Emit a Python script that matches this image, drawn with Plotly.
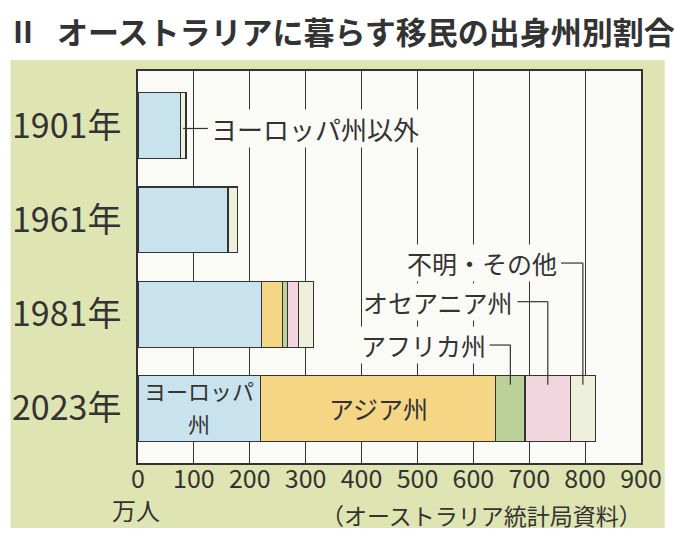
import plotly.graph_objects as go

# ---------------- data (万人) ----------------
years = ["1901年", "1961年", "1981年", "2023年"]
europe = [75.5, 161, 221, 219]          # ヨーロッパ州
non_europe = [10.5, 17.5, None, None]   # ヨーロッパ州以外 (1901, 1961)
asia = [None, None, 37.5, 421]          # アジア州
africa = [None, None, 9, 52.5]          # アフリカ州
oceania = [None, None, 19, 81.5]        # オセアニア州
other = [None, None, 28, 44]            # 不明・その他
x_ticks = [0, 100, 200, 300, 400, 500, 600, 700, 800, 900]

# ---------------- styling / layout ----------------
W, H = 674, 537
L, R, T, B = 134, 643, 71, 463
FONT = "Noto Sans CJK JP"
INK = "#333333"
PANEL = "#dfe5b2"
PLOTBG = "#fafaf6"

def px(x):
    return (x - L) / (R - L)

def py(y):
    return (B - y) / (B - T)

ypos = list(range(len(years)))
BAR_W = 0.70

series = [
    ("ヨーロッパ州", europe, "#c9e3ee"),
    ("ヨーロッパ州以外", non_europe, "#eff0dc"),
    ("アジア州", asia, "#f4d685"),
    ("アフリカ州", africa, "#bcd19a"),
    ("オセアニア州", oceania, "#f1d6e0"),
    ("不明・その他", other, "#eff0dc"),
]

fig = go.Figure()
for name, vals, col in series:
    fig.add_trace(go.Bar(
        y=ypos, x=vals, name=name, orientation="h", width=BAR_W,
        marker=dict(color=col, line=dict(color=INK, width=1.2)),
        hoverinfo="skip",
    ))

shapes = []
annotations = []

# white page areas around the green panel
for x0, x1, y0, y1 in [(-10, 684, -10, 60), (667, 684, -10, 547),
                       (-10, 684, 528, 547), (-10, 5, -10, 547)]:
    shapes.append(dict(type="rect", xref="paper", yref="paper",
                       x0=px(x0), x1=px(x1), y0=py(y1), y1=py(y0),
                       fillcolor="white", line=dict(width=0), layer="below"))

# cumulative helpers for leader lines
def cum(idx, upto):
    s = 0
    for _, vals, _ in series[:upto]:
        v = vals[idx]
        s += v if v is not None else 0
    return s

def mid(idx, k):
    start = cum(idx, k)
    v = series[k][1][idx]
    return start + v / 2

last = len(years) - 1
bar_top_in = last - BAR_W / 2 + 0.10

leader = dict(color=INK, width=1.2)

# ヨーロッパ州以外 (1901)
y_ne = 0.03
x_ne_text = 128
shapes.append(dict(type="line", xref="x", yref="y", x0=mid(0, 1), x1=x_ne_text - 3,
                   y0=y_ne, y1=y_ne, line=leader, layer="above"))
annotations.append(dict(x=x_ne_text, y=y_ne, xref="x", yref="y", text="ヨーロッパ州以外",
                        showarrow=False, xanchor="left", yanchor="middle",
                        font=dict(size=26, color=INK, family=FONT),
                        bgcolor=PLOTBG, borderpad=0))

# labels for 2023 small segments: (series index, label y, leader start x, text)
labels_2023 = [
    (3, 2.328, 629, "アフリカ州"),
    (4, 1.868, 679, "オセアニア州"),
    (5, 1.458, 757, "不明・その他"),
]
for k, ly, lx, txt in labels_2023:
    mx = mid(last, k)
    shapes.append(dict(type="line", xref="x", yref="y", x0=lx, x1=mx, y0=ly, y1=ly,
                       line=leader, layer="above"))
    shapes.append(dict(type="line", xref="x", yref="y", x0=mx, x1=mx, y0=ly, y1=bar_top_in,
                       line=leader, layer="above"))
    annotations.append(dict(x=lx, y=ly, xref="x", yref="y", text=txt, showarrow=False,
                            xanchor="right", yanchor="middle", xshift=-3,
                            font=dict(size=25, color=INK, family=FONT),
                            bgcolor=PLOTBG, borderpad=0))

# in-bar labels (2023)
annotations.append(dict(x=europe[last] / 2, y=last, xref="x", yref="y", text="ヨーロッパ",
                        showarrow=False, yshift=18, font=dict(size=22, color=INK, family=FONT)))
annotations.append(dict(x=europe[last] / 2, y=last, xref="x", yref="y", text="州",
                        showarrow=False, yshift=-15, font=dict(size=22, color=INK, family=FONT)))
annotations.append(dict(x=europe[last] + asia[last] / 2, y=last, xref="x", yref="y",
                        text="アジア州", showarrow=False,
                        font=dict(size=25, color=INK, family=FONT)))

# title
annotations.append(dict(x=px(18), y=py(30), xref="paper", yref="paper", text="Ⅱ",
                        showarrow=False, xanchor="center", yanchor="middle",
                        font=dict(size=30, color=INK, family=FONT, weight="bold")))
annotations.append(dict(x=px(50), y=py(30), xref="paper", yref="paper",
                        text="オーストラリアに暮らす移民の出身州別割合",
                        showarrow=False, xanchor="left", yanchor="middle",
                        font=dict(size=31, color=INK, family=FONT, weight="bold")))
# unit and source
annotations.append(dict(x=px(132), y=py(509), xref="paper", yref="paper", text="万人",
                        showarrow=False, xanchor="center", yanchor="middle",
                        font=dict(size=24, color=INK, family=FONT)))
annotations.append(dict(x=px(482), y=py(515), xref="paper", yref="paper",
                        text="（オーストラリア統計局資料）",
                        showarrow=False, xanchor="center", yanchor="middle",
                        font=dict(size=23, color=INK, family=FONT)))

fig.update_layout(
    width=W, height=H,
    margin=dict(l=L, r=W - R, t=T, b=H - B, pad=0),
    barmode="stack",
    showlegend=False,
    paper_bgcolor=PANEL,
    plot_bgcolor=PLOTBG,
    font=dict(family=FONT, color=INK),
    shapes=shapes,
    annotations=annotations,
    xaxis=dict(range=[0, 900], tickvals=x_ticks, ticktext=[str(v) for v in x_ticks],
               showgrid=True, gridcolor=INK, gridwidth=1.2, zeroline=False,
               showline=True, linecolor=INK, linewidth=1.6, mirror=True,
               ticks="", ticklabelstandoff=-7,
               tickfont=dict(size=25, color=INK, family=FONT),
               fixedrange=True),
    yaxis=dict(range=[len(years) - 1 + 0.58, -0.58], tickvals=ypos, ticktext=years,
               showgrid=False, zeroline=False,
               showline=True, linecolor=INK, linewidth=1.6, mirror=True,
               ticks="", ticklabelstandoff=8,
               tickfont=dict(size=34, color=INK, family=FONT), fixedrange=True),
)

fig.write_html("out.html")
